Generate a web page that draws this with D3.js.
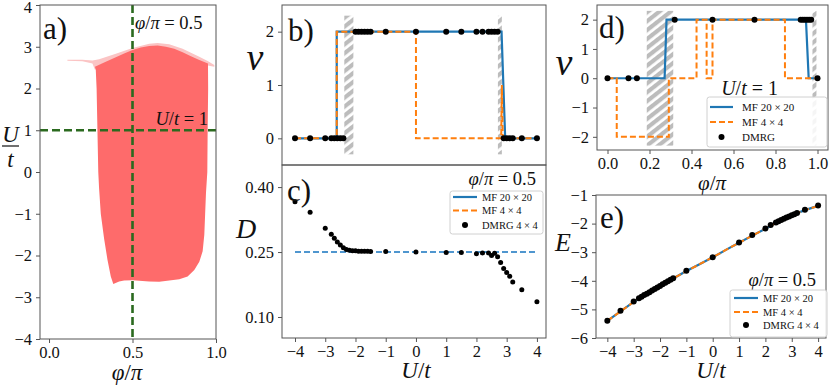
<!DOCTYPE html>
<html><head><meta charset="utf-8">
<script src="https://cdn.jsdelivr.net/npm/d3@7"></script>
<style>body{margin:0;background:#fff} svg{display:block} text{font-family:"Liberation Serif",serif;fill:#111}</style>
</head><body><svg id="c" width="830" height="386"></svg>
<script>
// ---------- DATA ----------
// Panel a: phase region boundary (phi/pi, U/t)
const regionPhi = [0.275,0.33,0.40,0.45,0.50,0.55,0.60,0.65,0.70,0.75,0.80,0.85,0.90,0.952,0.953,0.95,0.948,0.94,0.935,0.93,0.92,0.90,0.87,0.83,0.78,0.72,0.66,0.60,0.50,0.45,0.42,0.385,0.37,0.35,0.33,0.31,0.30,0.295,0.29,0.285,0.28];
const regionU   = [2.52,2.62,2.75,2.84,2.92,2.98,3.02,3.03,3.00,2.95,2.87,2.77,2.68,2.60,2.0,1.0,0.0,-0.5,-1.0,-1.5,-1.9,-2.15,-2.35,-2.5,-2.57,-2.6,-2.63,-2.62,-2.59,-2.6,-2.62,-2.68,-2.5,-2.1,-1.6,-1.0,-0.4,0.0,1.0,2.0,2.45];
const fringePhi = [0.11,0.20,0.26,0.30,0.40,0.50,0.60,0.65,0.72,0.80,0.90,0.95,0.99,0.99,0.95,0.90,0.80,0.60,0.40,0.30,0.275,0.26,0.20,0.11];
const fringeU   = [2.69,2.69,2.67,2.70,2.83,2.97,3.07,3.09,3.06,2.95,2.76,2.66,2.56,2.52,2.55,2.6,2.8,2.9,2.7,2.5,2.45,2.6,2.655,2.665];
const cutPhi = 0.5, cutU = 1;

// Panel b: nu vs U/t at phi/pi=0.5
const bMf20U  = [-4,-2.62,-2.62,2.83,2.95,4];
const bMf20Nu = [0,0,2,2,0,0];
const bMf4U   = [-4,-2.62,-2.62,0,0,2.82,2.84,2.87,4];
const bMf4Nu  = [0,0,2,2,0,0,1.0,0,0];
const bDmrgU  = [-4,-3.5,-3,-2.8,-2.7,-2.6,-2.5,-2.4,-2.0,-1.9,-1.8,-1.7,-1.6,-1.5,-1,0,1,1.5,2,2.2,2.4,2.5,2.6,2.7,2.9,3.0,3.1,3.2,3.5,4];
const bDmrgNu = [0,0,0,0,0,0,0,0,2,2,2,2,2,2,2,2,2,2,2,2,2,2,2,2,0,0,0,0,0,0];
const bHatch  = [[-2.37,-2.07],[2.71,2.84]];
const bHatchNu = [-0.3,2.3];

// Panel c: D vs U/t
const cMfU = [-4,4];
const cMfD = [0.25,0.25];
const cDmrgU = [-4,-3.5,-3,-2.8,-2.7,-2.6,-2.5,-2.4,-2.3,-2.2,-2.1,-2.0,-1.9,-1.8,-1.7,-1.6,-1.5,-1,0,1,1.5,2,2.2,2.4,2.5,2.6,2.7,2.8,2.9,3.0,3.1,3.2,3.5,4];
const cDmrgD = [0.366,0.342,0.305,0.291,0.282,0.273,0.266,0.260,0.256,0.254,0.253,0.253,0.252,0.252,0.252,0.252,0.251,0.251,0.250,0.249,0.249,0.246,0.248,0.248,0.242,0.247,0.239,0.226,0.212,0.203,0.194,0.181,0.163,0.135];

// Panel d: nu vs phi/pi at U/t=1
const dMf20Phi = [0,0.272,0.281,0.945,0.958,1.0];
const dMf20Nu  = [0,0,2,2,0,0];
const dMf4Phi  = [0,0.044,0.044,0.292,0.292,0.424,0.424,0.472,0.472,0.500,0.500,0.845,0.845,1.0];
const dMf4Nu   = [0,0,-2,-2,0,0,2,2,0,0,2,2,0,0];
const dDmrgPhi = [0,0.1,0.14,0.32,0.5,0.7,0.92,0.93,0.94,0.95,0.96,0.97,1.0];
const dDmrgNu  = [0,0,0,2,2,2,2,2,2,2,2,2,0];
const dHatch   = [[0.187,0.313],[0.976,0.995]];
const dHatchNu = [-2.3,2.3];

// Panel e: E vs U/t
const eMfU = [-4,-3.5,-3,-2.5,-2,-1.5,-1,-0.5,0,0.5,1,1.5,2,2.5,3,3.5,4];
const eMfE = [-5.40,-5.07,-4.74,-4.46,-4.19,-3.92,-3.66,-3.42,-3.18,-2.92,-2.67,-2.42,-2.18,-1.93,-1.71,-1.53,-1.38];
const eDmrgU = [-4,-3.5,-3,-2.8,-2.7,-2.6,-2.5,-2.4,-2.3,-2.2,-2.1,-2.0,-1.9,-1.8,-1.7,-1.6,-1.5,-1,0,1,1.5,2,2.2,2.4,2.5,2.6,2.7,2.8,2.9,3.0,3.1,3.2,3.5,4];
const eDmrgE = [-5.40,-5.05,-4.72,-4.61,-4.56,-4.50,-4.45,-4.40,-4.34,-4.29,-4.23,-4.18,-4.12,-4.07,-4.02,-3.96,-3.91,-3.65,-3.18,-2.66,-2.40,-2.17,-2.05,-1.96,-1.92,-1.87,-1.83,-1.79,-1.75,-1.71,-1.67,-1.63,-1.52,-1.37];

// ticks
const aXTicks = [0,0.5,1], aYTicks = [-4,-3,-2,-1,0,1,2,3,4];
const uTicks = [-4,-3,-2,-1,0,1,2,3,4];
const bYTicks = [0,1,2], cYTicks = [0.10,0.25,0.40];
const dXTicks = [0,0.2,0.4,0.6,0.8,1.0], dYTicks = [-2,-1,0,1,2];
const eYTicks = [-6,-5,-4,-3,-2,-1];

// ---------- DRAW ----------
const BLUE="#1f77b4", ORANGE="#ff7f0e", FRAME="#555";
const svg = d3.select('#c');
const defs = svg.append('defs');
const pat = defs.append('pattern').attr('id','hatch').attr('patternUnits','userSpaceOnUse')
  .attr('width',8).attr('height',7).attr('patternTransform','rotate(-38)');
pat.append('rect').attr('width',8).attr('height',4.2).attr('fill','#bcbcbc');

const fmtMinus = s => String(s).replace('-','\u2212');
let clipN=0;
function panel(b, xd, yd){
  const x = d3.scaleLinear().domain(xd).range([b.x0,b.x1]);
  const y = d3.scaleLinear().domain(yd).range([b.y1,b.y0]);
  const id='clip'+(clipN++);
  defs.append('clipPath').attr('id',id).append('rect')
    .attr('x',b.x0).attr('y',b.y0).attr('width',b.x1-b.x0).attr('height',b.y1-b.y0);
  const g = svg.append('g');
  const plot = g.append('g').attr('clip-path',`url(#${id})`);
  return {x,y,g,plot,b};
}
function frame(P){
  P.g.append('rect').attr('x',P.b.x0).attr('y',P.b.y0).attr('width',P.b.x1-P.b.x0)
   .attr('height',P.b.y1-P.b.y0).attr('fill','none').attr('stroke',FRAME).attr('stroke-width',1);
}
function styleAxis(s){
  s.select('.domain').remove();
  s.selectAll('.tick line').attr('stroke',FRAME);
  s.selectAll('.tick text').attr('font-family','Liberation Serif').attr('font-size',16.5).attr('fill','#222');
}
function yAxis(P, ticks, fmt){
  return P.g.append('g').attr('transform',`translate(${P.b.x0},0)`)
   .call(d3.axisLeft(P.y).tickValues(ticks).tickSize(4).tickPadding(4).tickFormat(d=>fmtMinus(fmt(d)))).call(styleAxis);
}
function xAxis(P, ticks, fmt, labels=true){
  P.g.append('g').attr('transform',`translate(0,${P.b.y1})`)
   .call(d3.axisBottom(P.x).tickValues(ticks).tickSize(4).tickPadding(3).tickFormat(labels?(d=>fmtMinus(fmt(d))):'')).call(styleAxis);
}
function mtext(g,x,y,parts,size,anchor){
  const t=g.append('text').attr('x',x).attr('y',y).attr('font-size',size).attr('text-anchor',anchor||'start');
  parts.forEach(([s,it])=>t.append('tspan').text(s).attr('font-style',it?'italic':'normal'));
  return t;
}
function pline(P, xs, ys, color, dash, w){
  const pts = xs.map((v,i)=>[v,ys[i]]);
  P.plot.append('path').attr('d',d3.line().x(d=>P.x(d[0])).y(d=>P.y(d[1]))(pts))
   .attr('fill','none').attr('stroke',color).attr('stroke-width',w||2).attr('stroke-dasharray',dash||null);
}
function dots(P, xs, ys, r){
  P.g.selectAll(null).data(xs.map((v,i)=>[v,ys[i]])).enter().append('circle')
   .attr('cx',d=>P.x(d[0])).attr('cy',d=>P.y(d[1])).attr('r',r).attr('fill','#000');
}
function hatch(P, bands, yr){
  bands.forEach(([a,b])=>{
    P.plot.append('rect').attr('x',P.x(a)).attr('width',P.x(b)-P.x(a))
      .attr('y',P.y(yr[1])).attr('height',P.y(yr[0])-P.y(yr[1])).attr('fill','url(#hatch)');
  });
}
function legend(g, x, y, w, h, rows, lx0, lx1, tx, fs){
  g.append('rect').attr('x',x).attr('y',y).attr('width',w).attr('height',h).attr('rx',2.5)
   .attr('fill','#fff').attr('fill-opacity',0.85).attr('stroke','#d0d0d0').attr('stroke-width',1);
  rows.forEach(r=>{
    if(r.type==='line') g.append('line').attr('x1',lx0).attr('x2',lx1).attr('y1',r.y).attr('y2',r.y)
      .attr('stroke',r.color).attr('stroke-width',2.2).attr('stroke-dasharray',r.dash||null);
    else g.append('circle').attr('cx',(lx0+lx1)/2).attr('cy',r.y).attr('r',3).attr('fill','#000');
    g.append('text').attr('x',tx).attr('y',r.y+3.5).attr('font-size',fs).text(r.label);
  });
}

// ----- Panel a -----
const A = panel({x0:40,x1:216,y0:5,y1:339}, [-0.054,1.0], [-4,4]);
const areaPath = (xs,ys)=>d3.line().x(d=>A.x(d[0])).y(d=>A.y(d[1])).curve(d3.curveLinearClosed)(xs.map((v,i)=>[v,ys[i]]));
A.plot.append('path').attr('d',areaPath(fringePhi,fringeU)).attr('fill','#fbc4c4');
A.plot.append('path').attr('d',areaPath(regionPhi,regionU)).attr('fill','#fe6b6b');
A.plot.append('line').attr('x1',A.x(cutPhi)).attr('x2',A.x(cutPhi)).attr('y1',A.b.y0).attr('y2',A.b.y1)
  .attr('stroke','#2b6a1f').attr('stroke-width',2.6).attr('stroke-dasharray','8,4');
A.plot.append('line').attr('x1',A.b.x0).attr('x2',A.b.x1).attr('y1',A.y(cutU)).attr('y2',A.y(cutU))
  .attr('stroke','#2b6a1f').attr('stroke-width',2.6).attr('stroke-dasharray','8,4');
frame(A);
const aY = yAxis(A, aYTicks, d3.format('d'));
aY.selectAll('.tick').filter(d=>d===4).select('text').attr('dy','0.45em');
xAxis(A, aXTicks, d3.format('.1f'));
A.g.append('text').attr('x',43).attr('y',39).attr('font-size',31).text('a)');
mtext(A.g,135,29,[['φ',1],['/',0],['π',1],[' = 0.5',0]],18.5);
mtext(A.g,208,125,[['U',1],['/',0],['t',1],[' = 1',0]],18.5,'end');
mtext(A.g,127,380,[['φ',1],['/',0],['π',1]],23,'middle');
mtext(A.g,10.5,142,[['U',1]],23,'middle');
A.g.append('line').attr('x1',2).attr('x2',19).attr('y1',146).attr('y2',146).attr('stroke','#111').attr('stroke-width',1.2);
mtext(A.g,10.5,167,[['t',1]],23,'middle');

// ----- Panel b -----
const B = panel({x0:282,x1:546,y0:5,y1:165}, [-4.43,4.3], [-0.5,2.5]);
hatch(B, bHatch, bHatchNu);
pline(B, bMf20U, bMf20Nu, BLUE, null, 2.2);
pline(B, bMf4U, bMf4Nu, ORANGE, '6,3', 2);
dots(B, bDmrgU, bDmrgNu, 3);
frame(B);
yAxis(B, bYTicks, d3.format('d'));
B.g.append('text').attr('x',288).attr('y',41).attr('font-size',31).text('b)');
mtext(B.g,255,70,[['ν',1]],38,'middle');

// ----- Panel c -----
const C = panel({x0:282,x1:546,y0:165,y1:338}, [-4.43,4.3], [0.0515,0.451]);
pline(C, cMfU, cMfD, '#4f96cf', '6,3', 2);
dots(C, cDmrgU, cDmrgD, 2.5);
frame(C);
yAxis(C, cYTicks, d3.format('.2f'));
xAxis(C, uTicks, d3.format('d'));
C.g.append('text').attr('x',287).attr('y',201).attr('font-size',31).text('c)');
mtext(C.g,246,238,[['D',1]],28,'middle');
mtext(C.g,416,378,[['U',1],['/',0],['t',1]],23,'middle');
mtext(C.g,536,185,[['φ',1],['/',0],['π',1],[' = 0.5',0]],18.5,'end');
legend(C.g,450,191,93,43,[
  {type:'line',y:197,color:BLUE,label:'MF 20 × 20'},
  {type:'line',y:210.5,color:ORANGE,dash:'6,3',label:'MF 4 × 4'},
  {type:'dot',y:225,label:'DMRG 4 × 4'}],453,477,482,10.5);

// ----- Panel d -----
const D = panel({x0:597,x1:828,y0:5,y1:150}, [-0.05,1.05], [-2.45,2.5]);
hatch(D, dHatch, dHatchNu);
pline(D, dMf20Phi, dMf20Nu, BLUE, null, 2.2);
pline(D, dMf4Phi, dMf4Nu, ORANGE, '6,3', 2);
dots(D, dDmrgPhi, dDmrgNu, 3);
frame(D);
yAxis(D, dYTicks, d3.format('d'));
xAxis(D, dXTicks, d3.format('.1f'));
D.g.append('text').attr('x',599).attr('y',38).attr('font-size',31).text('d)');
mtext(D.g,564,75,[['ν',1]],38,'middle');
mtext(D.g,712,190,[['φ',1],['/',0],['π',1]],21,'middle');
mtext(D.g,778,95,[['U',1],['/',0],['t',1],[' = 1',0]],20,'end');
legend(D.g,707,97,120,50,[
  {type:'line',y:107,color:BLUE,label:'MF 20 × 20'},
  {type:'line',y:122,color:ORANGE,dash:'6,3',label:'MF 4 × 4'},
  {type:'dot',y:137,label:'DMRG'}],710,733,742,11);

// ----- Panel e -----
const E = panel({x0:596,x1:826,y0:195,y1:338}, [-4.43,4.3], [-6,-1]);
pline(E, eMfU, eMfE, BLUE, null, 2.2);
pline(E, eMfU, eMfE, ORANGE, '6,3', 2);
dots(E, eDmrgU, eDmrgE, 3);
frame(E);
yAxis(E, eYTicks, d3.format('d'));
xAxis(E, uTicks, d3.format('d'));
E.g.append('text').attr('x',600).attr('y',228).attr('font-size',31).text('e)');
mtext(E.g,563,251,[['E',1]],26,'middle');
mtext(E.g,711,378,[['U',1],['/',0],['t',1]],23,'middle');
mtext(E.g,816,286,[['φ',1],['/',0],['π',1],[' = 0.5',0]],18.5,'end');
legend(E.g,730,290,97,47,[
  {type:'line',y:298,color:BLUE,label:'MF 20 × 20'},
  {type:'line',y:312,color:ORANGE,dash:'6,3',label:'MF 4 × 4'},
  {type:'dot',y:325,label:'DMRG 4 × 4'}],734,758,763,10.5);
</script></body></html>
